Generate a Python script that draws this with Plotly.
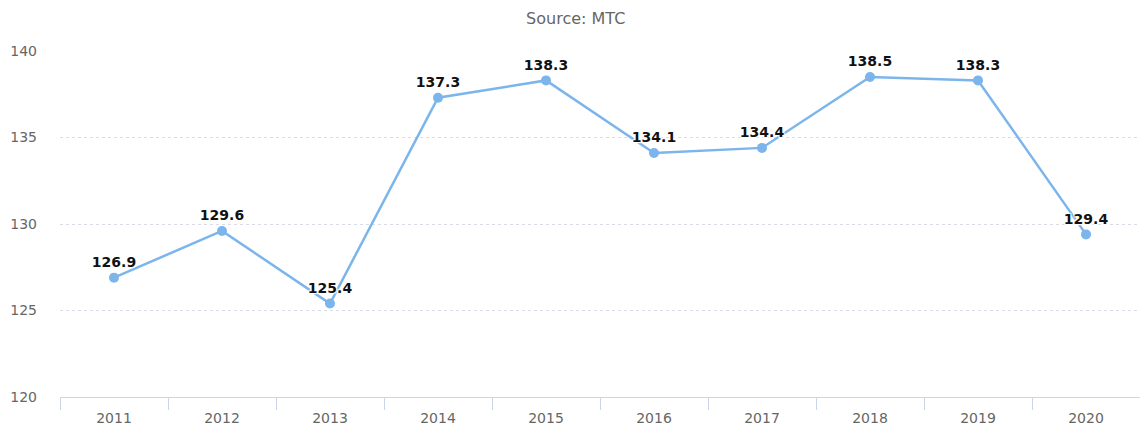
import plotly.graph_objects as go

years = ["2011", "2012", "2013", "2014", "2015", "2016", "2017", "2018", "2019", "2020"]
values = [126.9, 129.6, 125.4, 137.3, 138.3, 134.1, 134.4, 138.5, 138.3, 129.4]
y_ticks = [120, 125, 130, 135, 140]

fig = go.Figure()
fig.add_trace(go.Scatter(
    x=years, y=values, mode="lines+markers+text",
    line=dict(color="#7cb5ec", width=2.5),
    marker=dict(color="#7cb5ec", size=10),
    text=[f"{v:.1f}" for v in values],
    textposition="top center",
    textfont=dict(family="DejaVu Sans", size=14, color="#111111", weight="bold",
                  shadow="1px 1px 1px #fff, -1px -1px 1px #fff, 1px -1px 1px #fff, -1px 1px 1px #fff"),
    cliponaxis=False,
    hoverinfo="skip",
))

fig.update_layout(
    width=1140, height=428,
    margin=dict(l=60, r=0, t=51, b=31, autoexpand=False),
    paper_bgcolor="white", plot_bgcolor="white",
    showlegend=False,
    title=dict(text="Source: MTC", x=0.505, xanchor="center", yref="container",
               y=1 - 18 / 428, yanchor="middle",
               font=dict(family="DejaVu Sans", size=16, color="#666666")),
    font=dict(family="DejaVu Sans", size=14, color="#666666"),
)
fig.update_xaxes(
    type="category", range=[-0.5, len(years) - 0.5],
    tickson="boundaries", ticks="outside", ticklen=12,
    tickcolor="#ccd6eb", showline=True, linecolor="#ccd6eb", linewidth=1,
    showgrid=False, zeroline=False, automargin=False, ticklabelstandoff=8,
    tickfont=dict(family="DejaVu Sans", size=14, color="#666666"),
)
fig.update_yaxes(
    range=[120, 140], tickvals=y_ticks, showgrid=True, gridcolor="#d8dce6",
    griddash="dot", gridwidth=1, zeroline=False, showline=False,
    ticks="", ticklabelstandoff=22, automargin=False,
    tickfont=dict(family="DejaVu Sans", size=14, color="#666666"),
)

fig.write_html("out.html", config={"displayModeBar": False},
               post_script="document.body.style.margin='0';document.body.style.overflow='hidden';")
